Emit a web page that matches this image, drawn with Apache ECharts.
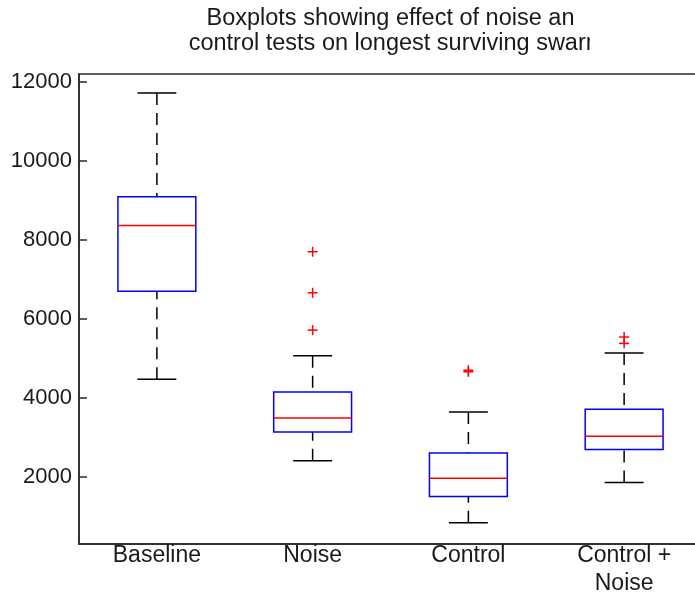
<!DOCTYPE html>
<html>
<head>
<meta charset="utf-8">
<script src="https://cdn.jsdelivr.net/npm/echarts@6/dist/echarts.min.js"></script>
<style>
  html, body { margin: 0; padding: 0; background: #ffffff; }
  #chart { width: 695px; height: 592px; }
</style>
</head>
<body>
<div id="chart"></div>
<script>
// Groups and five-number summaries (longest surviving swarm, time steps)
const categories = ['Baseline', 'Noise', 'Control', 'Control +\nNoise'];
const lowerWhisker = [4470, 2410, 840, 1855];
const q1 = [6700, 3135, 1500, 2690];
const median = [8365, 3490, 1965, 3025];
const q3 = [9090, 4150, 2605, 3710];
const upperWhisker = [11720, 5065, 3640, 5135];

// Outliers per group (group index is 1-based)
const outlierGroup = [2, 2, 2, 3, 3, 4, 4];
const outlierValue = [7700, 6660, 5715, 4660, 4700, 5380, 5540];

// Y tick labels
const yTicks = [2000, 4000, 6000, 8000, 10000, 12000];

// Title lines
const titleLines = ['Boxplots showing effect of noise and', 'control tests on longest surviving swarm'];

const FONT = 'Liberation Sans';
const AXIS = '#262626';
const TEXT = '#1a1a1a';

const boxData = categories.map((c, i) => [i + 1, lowerWhisker[i], q1[i], median[i], q3[i], upperWhisker[i]]);
const outlierData = outlierGroup.map((g, i) => [g, outlierValue[i]]);

function renderBox(params, api) {
  const x = api.value(0);
  const low = api.coord([x, api.value(1)]);
  const b1 = api.coord([x, api.value(2)]);
  const med = api.coord([x, api.value(3)]);
  const b3 = api.coord([x, api.value(4)]);
  const up = api.coord([x, api.value(5)]);
  const half = api.size([0.25, 0])[0];
  const capHalf = api.size([0.125, 0])[0];
  const cx = low[0];
  const dash = { stroke: '#000000', lineWidth: 1.5, lineDash: [12, 8] };
  const solid = { stroke: '#000000', lineWidth: 1.5 };
  return {
    type: 'group',
    children: [
      { type: 'line', shape: { x1: cx, y1: up[1], x2: cx, y2: b3[1] }, style: dash },
      { type: 'line', shape: { x1: cx, y1: low[1], x2: cx, y2: b1[1] }, style: dash },
      { type: 'line', shape: { x1: cx - capHalf, y1: up[1], x2: cx + capHalf, y2: up[1] }, style: solid },
      { type: 'line', shape: { x1: cx - capHalf, y1: low[1], x2: cx + capHalf, y2: low[1] }, style: solid },
      { type: 'rect', shape: { x: cx - half, y: b3[1], width: half * 2, height: b1[1] - b3[1] },
        style: { fill: 'none', stroke: '#0000ff', lineWidth: 1.5 } },
      { type: 'line', shape: { x1: cx - half, y1: med[1], x2: cx + half, y2: med[1] },
        style: { stroke: '#ff0000', lineWidth: 1.5 } }
    ]
  };
}

function renderOutlier(params, api) {
  const p = api.coord([api.value(0), api.value(1)]);
  const r = 5;
  const st = { stroke: '#ff0000', lineWidth: 1.5 };
  return {
    type: 'group',
    children: [
      { type: 'line', shape: { x1: p[0] - r, y1: p[1], x2: p[0] + r, y2: p[1] }, style: st },
      { type: 'line', shape: { x1: p[0], y1: p[1] - r, x2: p[0], y2: p[1] + r }, style: st }
    ]
  };
}

const chart = echarts.init(document.getElementById('chart'), null, { renderer: 'canvas' });

// Title is centred over the axes and cut off by the figure's right margin
const titleFont = '23.5px "Liberation Sans"';
const titleGraphics = [
  { type: 'text', x: 397, y: 19, z: 10,
    style: { text: titleLines[0], font: titleFont, fill: TEXT, textAlign: 'center', textVerticalAlign: 'middle' } },
  { type: 'text', x: 397, y: 44, z: 10,
    style: { text: titleLines[1], font: titleFont, fill: TEXT, textAlign: 'center', textVerticalAlign: 'middle' } },
  { type: 'rect', z: 11, silent: true, shape: { x: 574, y: 2, width: 130, height: 29 }, style: { fill: '#ffffff' } },
  { type: 'rect', z: 11, silent: true, shape: { x: 590, y: 31, width: 130, height: 30 }, style: { fill: '#ffffff' } }
];

chart.setOption({
  animation: false,
  backgroundColor: '#ffffff',
  grid: {
    left: 79, top: 74, width: 623, height: 470,
    outerBoundsMode: 'none', containLabel: false,
    show: true, borderColor: AXIS, borderWidth: 1.5, backgroundColor: 'transparent'
  },
  xAxis: {
    type: 'value', min: 0.5, max: 4.5,
    axisLine: { show: true, onZero: false, lineStyle: { color: AXIS, width: 1.5 } },
    axisTick: { show: false },
    splitLine: { show: false },
    axisLabel: {
      customValues: [1, 2, 3, 4],
      formatter: v => categories[Math.round(v) - 1],
      fontFamily: FONT, fontSize: 23, color: TEXT, lineHeight: 28, margin: -2
    }
  },
  yAxis: {
    type: 'value', min: 300, max: 12200,
    axisLine: { show: true, onZero: false, lineStyle: { color: AXIS, width: 1.5 } },
    axisTick: { show: true, inside: true, length: 8, customValues: yTicks, lineStyle: { color: AXIS, width: 1.5 } },
    splitLine: { show: false },
    axisLabel: {
      customValues: yTicks,
      formatter: v => String(v),
      fontFamily: FONT, fontSize: 22, color: TEXT, margin: 7
    }
  },
  graphic: titleGraphics,
  series: [
    {
      type: 'custom', renderItem: renderBox, data: boxData,
      encode: { x: 0, y: [1, 2, 3, 4, 5] }, clip: false
    },
    {
      type: 'custom', renderItem: renderOutlier, data: outlierData,
      encode: { x: 0, y: 1 }, clip: false
    }
  ]
});
</script>
</body>
</html>
